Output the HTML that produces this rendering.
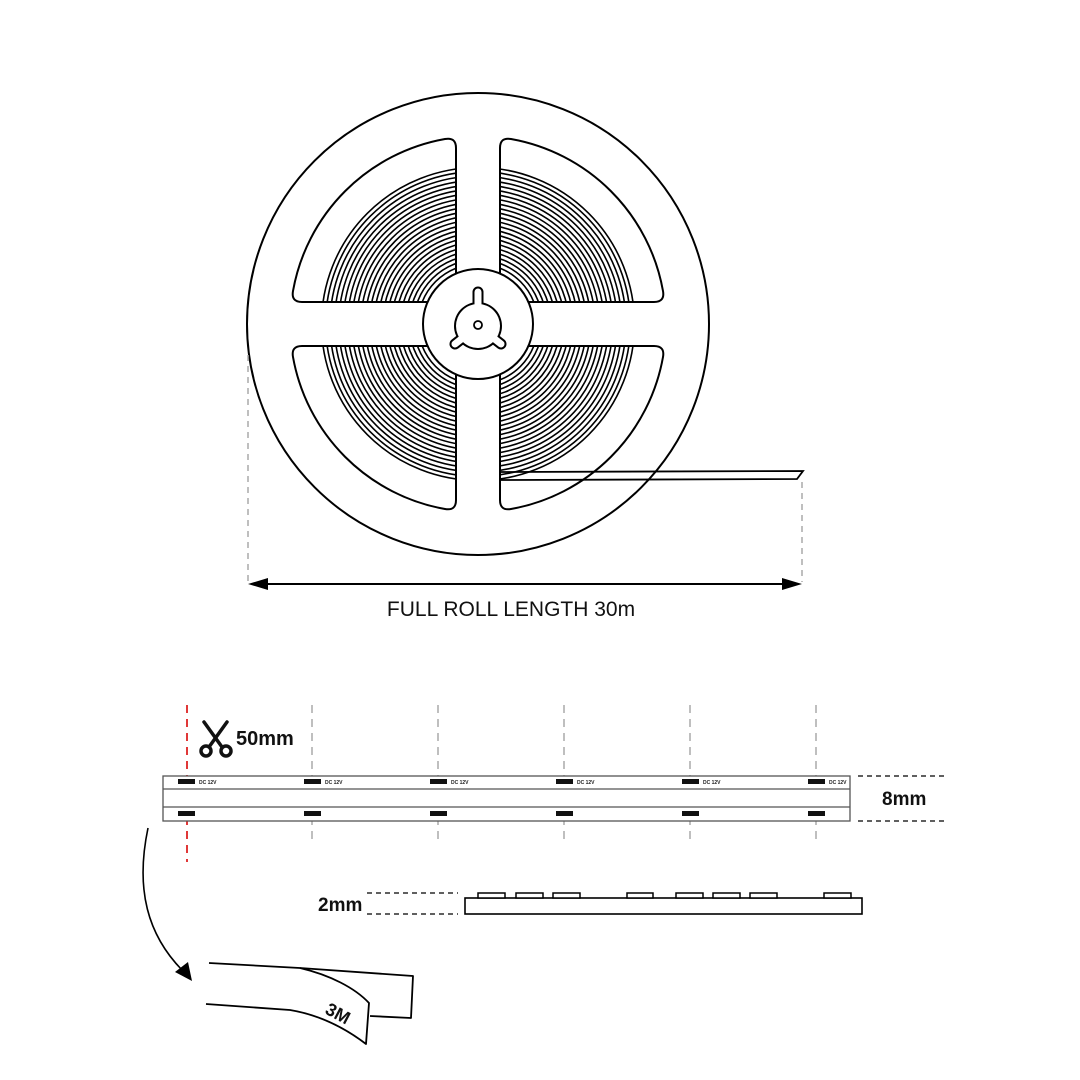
<!DOCTYPE html>
<html><head><meta charset="utf-8"><style>
html,body{margin:0;padding:0;background:#fff;}
svg{display:block;}
text{font-family:"Liberation Sans",sans-serif;}
</style></head><body>
<svg width="1080" height="1080" viewBox="0 0 1080 1080" xmlns="http://www.w3.org/2000/svg">
<defs>
<clipPath id="win">
<path transform="translate(478,324)" d="M-22,-186.7 A188,188 0 0 0 -186.7,-22 L-22,-22Z"/>
<path transform="translate(478,324)" d="M22,-186.7 A188,188 0 0 1 186.7,-22 L22,-22Z"/>
<path transform="translate(478,324)" d="M-22,186.7 A188,188 0 0 1 -186.7,22 L-22,22Z"/>
<path transform="translate(478,324)" d="M22,186.7 A188,188 0 0 0 186.7,22 L22,22Z"/>
</clipPath>
</defs>
<rect width="1080" height="1080" fill="#fff"/>
<circle cx="478" cy="324" r="231" fill="#fff" stroke="#000" stroke-width="2"/>
<g clip-path="url(#win)" fill="none" stroke="#000" stroke-width="1.6">
<circle cx="478" cy="324" r="60"/><circle cx="478" cy="324" r="64.4"/><circle cx="478" cy="324" r="68.8"/><circle cx="478" cy="324" r="73.2"/><circle cx="478" cy="324" r="77.6"/><circle cx="478" cy="324" r="82"/><circle cx="478" cy="324" r="86.4"/><circle cx="478" cy="324" r="90.8"/><circle cx="478" cy="324" r="95.2"/><circle cx="478" cy="324" r="99.6"/><circle cx="478" cy="324" r="104"/><circle cx="478" cy="324" r="108.4"/><circle cx="478" cy="324" r="112.8"/><circle cx="478" cy="324" r="117.2"/><circle cx="478" cy="324" r="121.6"/><circle cx="478" cy="324" r="126"/><circle cx="478" cy="324" r="130.4"/><circle cx="478" cy="324" r="134.8"/><circle cx="478" cy="324" r="139.2"/><circle cx="478" cy="324" r="143.6"/><circle cx="478" cy="324" r="148"/><circle cx="478" cy="324" r="152.4"/><circle cx="478" cy="324" r="156.5"/>
</g>
<g transform="translate(478,324)" fill="none" stroke="#000" stroke-width="2" stroke-linejoin="round">
<path d="M-22,-176 Q-22,-187 -33,-185 A188,188 0 0 0 -185,-33 Q-187,-22 -176,-22 L-22,-22Z"/>
<path d="M22,-176 Q22,-187 33,-185 A188,188 0 0 1 185,-33 Q187,-22 176,-22 L22,-22Z"/>
<path d="M-22,176 Q-22,187 -33,185 A188,188 0 0 1 -185,33 Q-187,22 -176,22 L-22,22Z"/>
<path d="M22,176 Q22,187 33,185 A188,188 0 0 0 185,33 Q187,22 176,22 L22,22Z"/>
</g>
<path d="M501,472 L803,471 L797,479 L501,480" fill="none" stroke="#000" stroke-width="1.8"/>
<circle cx="478" cy="324" r="55" fill="#fff" stroke="#000" stroke-width="2"/>
<g stroke="#000" stroke-width="11" stroke-linecap="round">
<line x1="478" y1="326" x2="478" y2="292"/>
<line x1="478" y1="326" x2="455" y2="344"/>
<line x1="478" y1="326" x2="501" y2="344"/>
</g>
<circle cx="478" cy="326" r="24" fill="#000"/>
<g stroke="#fff" stroke-width="7" stroke-linecap="round">
<line x1="478" y1="326" x2="478" y2="292"/>
<line x1="478" y1="326" x2="455" y2="344"/>
<line x1="478" y1="326" x2="501" y2="344"/>
</g>
<circle cx="478" cy="326" r="22" fill="#fff"/>
<circle cx="478" cy="325" r="4" fill="#fff" stroke="#000" stroke-width="1.8"/>
<g stroke="#aaa" stroke-width="1.5" stroke-dasharray="6,5">
<line x1="248" y1="355" x2="248" y2="582"/>
<line x1="802" y1="482" x2="802" y2="582"/>
</g>
<line x1="260" y1="584" x2="790" y2="584" stroke="#000" stroke-width="2"/>
<path d="M248,584 L268,578 L268,590Z M802,584 L782,578 L782,590Z" fill="#000"/>
<text x="511" y="616" font-size="21" text-anchor="middle" fill="#111">FULL ROLL LENGTH 30m</text>
<g stroke="#aaa" stroke-width="1.5" stroke-dasharray="8,6">
<line x1="312" y1="705" x2="312" y2="845"/>
<line x1="438" y1="705" x2="438" y2="845"/>
<line x1="564" y1="705" x2="564" y2="845"/>
<line x1="690" y1="705" x2="690" y2="845"/>
<line x1="816" y1="705" x2="816" y2="845"/>
</g>
<line x1="187" y1="705" x2="187" y2="862" stroke="#d22" stroke-width="1.8" stroke-dasharray="8,6"/>
<rect x="163" y="776" width="687" height="45" fill="#fff" stroke="#555" stroke-width="1.3"/>
<line x1="163" y1="789" x2="850" y2="789" stroke="#555" stroke-width="1.3"/>
<line x1="163" y1="807" x2="850" y2="807" stroke="#555" stroke-width="1.3"/>
<g fill="#111">
<rect x="178" y="779" width="17" height="5"/><rect x="304" y="779" width="17" height="5"/><rect x="430" y="779" width="17" height="5"/><rect x="556" y="779" width="17" height="5"/><rect x="682" y="779" width="17" height="5"/><rect x="808" y="779" width="17" height="5"/>
<rect x="178" y="811" width="17" height="5"/><rect x="304" y="811" width="17" height="5"/><rect x="430" y="811" width="17" height="5"/><rect x="556" y="811" width="17" height="5"/><rect x="682" y="811" width="17" height="5"/><rect x="808" y="811" width="17" height="5"/>
</g>
<g font-size="5" font-weight="bold" fill="#222">
<text x="199" y="784">DC 12V</text><text x="325" y="784">DC 12V</text><text x="451" y="784">DC 12V</text><text x="577" y="784">DC 12V</text><text x="703" y="784">DC 12V</text><text x="829" y="784">DC 12V</text>
</g>
<g stroke="#000" stroke-width="1.3" stroke-dasharray="5,4">
<line x1="858" y1="776" x2="948" y2="776"/>
<line x1="858" y1="821" x2="948" y2="821"/>
<line x1="367" y1="893" x2="458" y2="893"/>
<line x1="367" y1="914" x2="458" y2="914"/>
</g>
<text x="882" y="805" font-size="19" font-weight="bold" fill="#111">8mm</text>
<text x="318" y="911" font-size="19" font-weight="bold" fill="#111">2mm</text>
<g stroke="#111" stroke-width="3.5" fill="none" stroke-linecap="round">
<line x1="204" y1="722" x2="222" y2="747"/>
<line x1="227" y1="722" x2="209" y2="747"/>
<circle cx="206" cy="751" r="5"/>
<circle cx="226" cy="751" r="5"/>
</g>
<text x="236" y="745" font-size="20" font-weight="bold" fill="#111">50mm</text>
<rect x="465" y="898" width="397" height="16" fill="#fff" stroke="#000" stroke-width="1.6"/>
<g fill="#fff" stroke="#000" stroke-width="1.5">
<rect x="478" y="893" width="27" height="5"/><rect x="516" y="893" width="27" height="5"/><rect x="553" y="893" width="27" height="5"/><rect x="627" y="893" width="26" height="5"/><rect x="676" y="893" width="27" height="5"/><rect x="713" y="893" width="27" height="5"/><rect x="750" y="893" width="27" height="5"/><rect x="824" y="893" width="27" height="5"/>
</g>
<path d="M148,828 C135,890 148,935 182,970" fill="none" stroke="#000" stroke-width="1.6"/>
<path d="M192,981 L175,972 L188,962Z" fill="#000"/>
<g fill="none" stroke="#000" stroke-width="1.8" stroke-linejoin="round">
<path d="M209,963 L300,968 L413,976 L411,1018 L370,1016"/>
<path d="M300,968 C330,975 355,988 369,1003 L366,1044 C345,1028 320,1015 290,1010 L206,1004"/>
</g>
<text x="0" y="0" font-size="18" font-weight="bold" fill="#111" transform="translate(324,1013) rotate(28)">3M</text>
</svg>
</body></html>
